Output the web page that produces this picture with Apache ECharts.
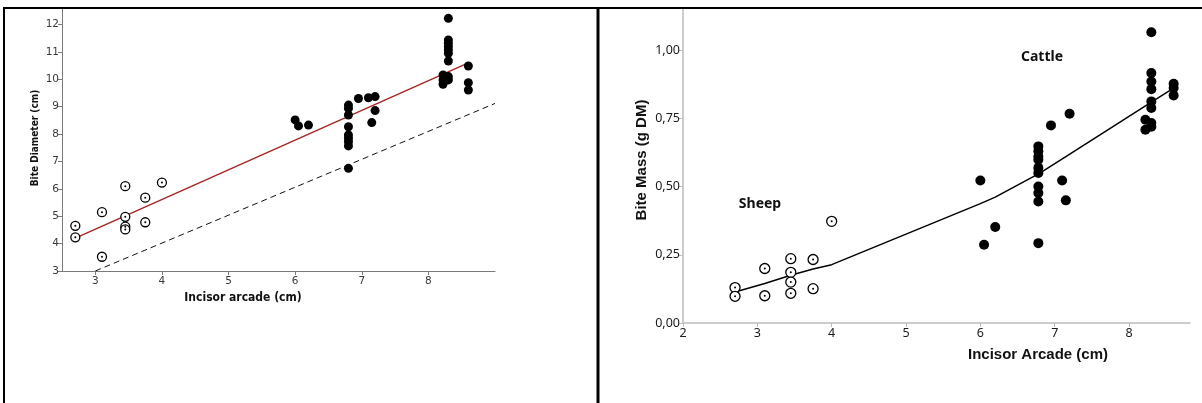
<!DOCTYPE html>
<html><head><meta charset="utf-8">
<script src="https://cdn.jsdelivr.net/npm/echarts@6/dist/echarts.min.js"></script>
<style>html,body{margin:0;padding:0;background:#fff}#c{width:1202px;height:403px}</style>
</head><body><div id="c"></div><script>
// ---- Left panel: Bite Diameter vs Incisor arcade ----
const leftSheepX = [2.7, 2.7, 3.1, 3.1, 3.45, 3.45, 3.45, 3.45, 3.75, 3.75, 4.0];
const leftSheepDiam = [4.65, 4.23, 5.15, 3.52, 6.1, 4.98, 4.62, 4.52, 5.68, 4.78, 6.23];
const leftCattleX = [6.0, 6.05, 6.2,
  6.8, 6.8, 6.8, 6.8, 6.8, 6.8, 6.8, 6.8, 6.8,
  6.95, 7.1, 7.2, 7.2, 7.15,
  8.3, 8.3, 8.3, 8.3, 8.3, 8.3, 8.3, 8.3, 8.3,
  8.22, 8.22, 8.22, 8.6, 8.6, 8.6];
const leftCattleDiam = [8.52, 8.3, 8.33,
  9.06, 8.94, 8.7, 8.27, 7.97, 7.85, 7.72, 7.57, 6.75,
  9.3, 9.33, 9.37, 8.86, 8.42,
  12.23, 11.44, 11.32, 11.19, 11.07, 10.95, 10.67, 10.1, 9.98,
  10.16, 9.98, 9.82, 10.49, 9.88, 9.61];
const leftFitX = [2.7, 8.6];
const leftFitY = [4.2, 10.6];
const refLineX = [3, 9];
const refLineY = [3, 9.12];
const leftXTicks = [3, 4, 5, 6, 7, 8];
const leftYTicks = [3, 4, 5, 6, 7, 8, 9, 10, 11, 12];

// ---- Right panel: Bite Mass vs Incisor Arcade ----
const rightSheepX = [2.7, 2.7, 3.1, 3.1, 3.45, 3.45, 3.45, 3.45, 3.75, 3.75, 4.0];
const rightSheepMass = [0.13, 0.098, 0.20, 0.10, 0.236, 0.186, 0.15, 0.109, 0.233, 0.126, 0.373];
const rightCattleX = [8.3, 8.3, 8.3, 8.3, 8.3, 8.3, 8.3, 8.3, 8.22, 8.22,
  8.6, 8.6, 8.6,
  6.78, 6.78, 6.78, 6.78, 6.78, 6.78, 6.78, 6.78, 6.78, 6.78,
  6.95, 7.2, 7.1, 7.15, 6.0, 6.2, 6.05];
const rightCattleMass = [1.067, 0.917, 0.886, 0.858, 0.813, 0.789, 0.734, 0.72, 0.746, 0.709,
  0.878, 0.862, 0.835,
  0.648, 0.63, 0.611, 0.599, 0.569, 0.55, 0.501, 0.477, 0.446, 0.293,
  0.725, 0.768, 0.523, 0.45, 0.523, 0.352, 0.287];
const rightFitX = [2.7, 3.1, 3.45, 3.75, 4.0, 6.0, 6.2, 6.8, 7.15, 8.3, 8.6];
const rightFitY = [0.114, 0.145, 0.175, 0.198, 0.214, 0.438, 0.462, 0.55, 0.61, 0.81, 0.862];
const rightXTicks = [2, 3, 4, 5, 6, 7, 8];
const rightYTicks = [0, 0.25, 0.5, 0.75, 1.0];

const zip = (a, b) => a.map((v, i) => [v, b[i]]);

const chart = echarts.init(document.getElementById('c'), null, {renderer: 'canvas'});

const leftFont = 'DejaVu Sans';
const rightFont = 'Noto Sans';

function leftAxisCommon(ticks, margin) {
  return {
    axisLine: {onZero: false, lineStyle: {color: '#7a7a7a', width: 1}},
    axisTick: {length: 4, lineStyle: {color: '#7a7a7a'}, customValues: ticks},
    axisLabel: {customValues: ticks, fontFamily: leftFont, fontSize: 10.5, color: '#3a3a3a', margin: margin},
    splitLine: {show: false}
  };
}
function rightAxisCommon(ticks, fmt, margin) {
  return {
    axisLine: {onZero: false, lineStyle: {color: '#bdbdbd', width: 1.5}},
    axisTick: {length: 4, lineStyle: {color: '#bdbdbd'}, customValues: ticks},
    axisLabel: {customValues: ticks, fontFamily: rightFont, fontSize: 12.5, color: '#1a1a1a', margin: margin, formatter: fmt},
    splitLine: {show: false}
  };
}

const option = {
  animation: false,
  backgroundColor: '#fff',
  grid: [
    {left: 62, top: 9, width: 433, height: 262, containLabel: false},
    {left: 683, top: 9, width: 507, height: 314, containLabel: false}
  ],
  xAxis: [
    Object.assign({type: 'value', gridIndex: 0, min: 2.5, max: 9}, leftAxisCommon(leftXTicks, 5)),
    Object.assign({type: 'value', gridIndex: 1, min: 2, max: 8.82}, rightAxisCommon(rightXTicks, v => String(v), 4))
  ],
  yAxis: [
    Object.assign({type: 'value', gridIndex: 0, min: 3, max: 12.57}, leftAxisCommon(leftYTicks, 3)),
    Object.assign({type: 'value', gridIndex: 1, min: 0, max: 1.152},
      rightAxisCommon(rightYTicks, v => v.toFixed(2).replace('.', ','), 3))
  ],
  series: [
    // left panel
    {type: 'line', xAxisIndex: 0, yAxisIndex: 0, data: zip(refLineX, refLineY), symbol: 'none',
      lineStyle: {color: '#111', width: 1, type: [6, 4]}, z: 1},
    {type: 'line', xAxisIndex: 0, yAxisIndex: 0, data: zip(leftFitX, leftFitY), symbol: 'none',
      lineStyle: {color: '#a52522', width: 1.4}, z: 1},
    {type: 'scatter', xAxisIndex: 0, yAxisIndex: 0, data: zip(leftSheepX, leftSheepDiam), symbol: 'circle', symbolSize: 9,
      itemStyle: {color: '#fff', borderColor: '#000', borderWidth: 1.3, opacity: 1}, z: 3},
    {type: 'scatter', xAxisIndex: 0, yAxisIndex: 0, data: zip(leftSheepX, leftSheepDiam), symbol: 'circle', symbolSize: 2,
      itemStyle: {color: '#000', opacity: 1}, z: 4},
    {type: 'scatter', xAxisIndex: 0, yAxisIndex: 0, data: zip(leftCattleX, leftCattleDiam), symbol: 'circle', symbolSize: 9,
      itemStyle: {color: '#000', opacity: 1}, z: 3},
    // right panel
    {type: 'line', xAxisIndex: 1, yAxisIndex: 1, data: zip(rightFitX, rightFitY), symbol: 'none',
      lineStyle: {color: '#000', width: 1.5}, z: 1},
    {type: 'scatter', xAxisIndex: 1, yAxisIndex: 1, data: zip(rightSheepX, rightSheepMass), symbol: 'circle', symbolSize: 10,
      itemStyle: {color: '#fff', borderColor: '#000', borderWidth: 1.3, opacity: 1}, z: 3},
    {type: 'scatter', xAxisIndex: 1, yAxisIndex: 1, data: zip(rightSheepX, rightSheepMass), symbol: 'circle', symbolSize: 2,
      itemStyle: {color: '#000', opacity: 1}, z: 4},
    {type: 'scatter', xAxisIndex: 1, yAxisIndex: 1, data: zip(rightCattleX, rightCattleMass), symbol: 'circle', symbolSize: 10,
      itemStyle: {color: '#000', opacity: 1}, z: 3}
  ],
  graphic: [
    // frame
    {type: 'line', shape: {x1: 3, y1: 8, x2: 1202, y2: 8}, style: {stroke: '#000', lineWidth: 2}, z: 10},
    {type: 'line', shape: {x1: 4, y1: 7, x2: 4, y2: 403}, style: {stroke: '#000', lineWidth: 2}, z: 10},
    {type: 'line', shape: {x1: 598, y1: 7, x2: 598, y2: 403}, style: {stroke: '#000', lineWidth: 3}, z: 10},
    // axis titles
    {type: 'text', x: 243, y: 298, style: {text: 'Incisor arcade (cm)', fontFamily: 'DejaVu Sans Condensed', fontWeight: 'bold',
      fontSize: 12, fill: '#111', align: 'center', verticalAlign: 'middle'}},
    {type: 'text', x: 35, y: 138, rotation: Math.PI / 2, style: {text: 'Bite Diameter (cm)', fontFamily: 'DejaVu Sans Condensed',
      fontWeight: 'bold', fontSize: 10, fill: '#111', align: 'center', verticalAlign: 'middle'}},
    {type: 'text', x: 1038, y: 355, style: {text: 'Incisor Arcade (cm)', fontFamily: 'Liberation Sans', fontWeight: 'bold',
      fontSize: 15, fill: '#111', align: 'center', verticalAlign: 'middle'}},
    {type: 'text', x: 642, y: 160, rotation: Math.PI / 2, style: {text: 'Bite Mass (g DM)', fontFamily: 'Liberation Sans',
      fontWeight: 'bold', fontSize: 15, fill: '#111', align: 'center', verticalAlign: 'middle'}},
    // group annotations
    {type: 'text', x: 760, y: 204, style: {text: 'Sheep', fontFamily: rightFont, fontWeight: 'bold', fontSize: 14,
      fill: '#111', align: 'center', verticalAlign: 'middle'}},
    {type: 'text', x: 1042, y: 57, style: {text: 'Cattle', fontFamily: rightFont, fontWeight: 'bold', fontSize: 14,
      fill: '#111', align: 'center', verticalAlign: 'middle'}}
  ]
};
chart.setOption(option);
</script></body></html>
